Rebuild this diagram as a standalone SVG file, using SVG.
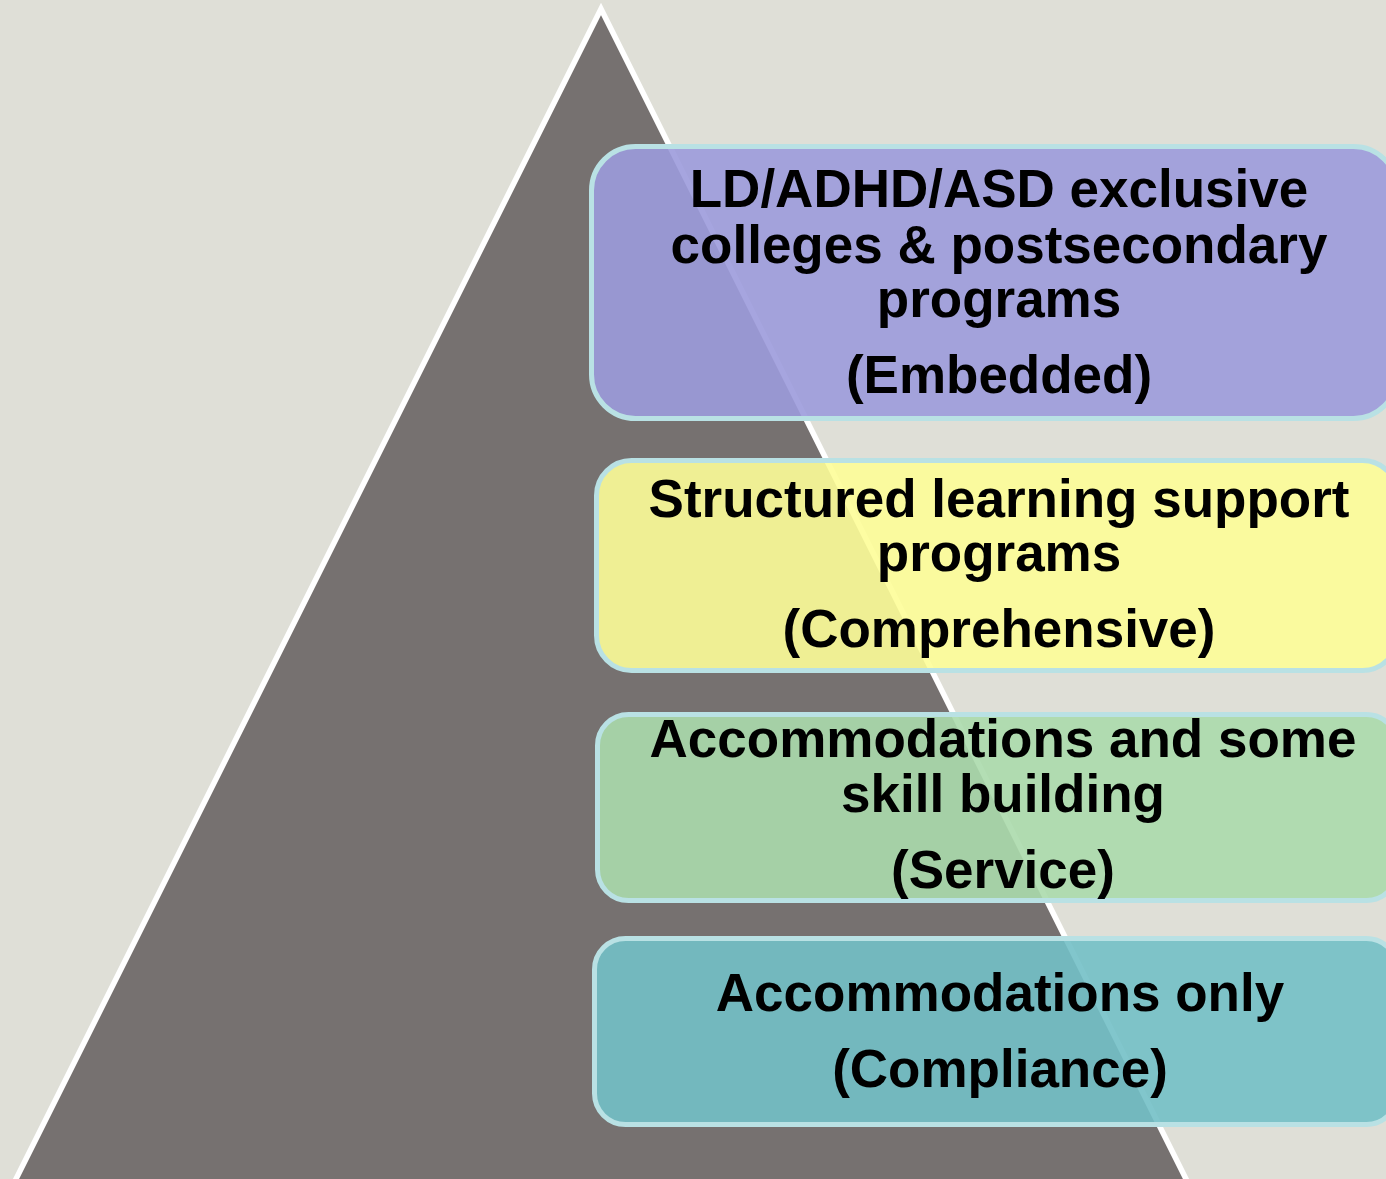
<svg xmlns="http://www.w3.org/2000/svg" width="1386" height="1179" viewBox="0 0 1386 1179">
  <style>
    .tier { stroke: #B9E1E4; stroke-width: 5; fill-opacity: 0.9; }
    .label { font-family: "Liberation Sans", Arial, sans-serif; font-weight: bold; font-size: 53px; fill: #000; text-anchor: middle; }
  </style>
  <!-- backdrop -->
  <rect x="0" y="0" width="1386" height="1179" fill="#DFDFD7"/>
  <!-- pyramid: grey body running past the bottom edge, white outline on the two slopes -->
  <polygon points="601,9 10,1191 1192,1191" fill="#767170"/>
  <polyline points="10,1191 601,9 1192,1191" fill="none" stroke="#FFFFFF" stroke-width="5.5" stroke-linejoin="miter"/>

  <g id="tier-embedded">
    <rect class="tier" x="591.5" y="146.5" width="806" height="272" rx="44" ry="44" fill="#9C9BDC"/>
    <text class="label" x="999" y="207">LD/ADHD/ASD exclusive</text>
    <text class="label" x="999" y="263">colleges &amp; postsecondary</text>
    <text class="label" x="999" y="317">programs</text>
    <text class="label" x="999" y="393">(Embedded)</text>
  </g>

  <g id="tier-comprehensive">
    <rect class="tier" x="596.5" y="460.5" width="801" height="210" rx="35" ry="35" fill="#FDFD98"/>
    <text class="label" x="999" y="517">Structured learning support</text>
    <text class="label" x="999" y="571">programs</text>
    <text class="label" x="999" y="647">(Comprehensive)</text>
  </g>

  <g id="tier-service">
    <rect class="tier" x="597.5" y="714.5" width="800" height="186" rx="31" ry="31" fill="#ABDAAC"/>
    <text class="label" x="1003" y="757">Accommodations and some</text>
    <text class="label" x="1003" y="812">skill building</text>
    <text class="label" x="1003" y="888">(Service)</text>
  </g>

  <g id="tier-compliance">
    <rect class="tier" x="594.5" y="938.5" width="803" height="186" rx="31" ry="31" fill="#73C0C6"/>
    <text class="label" x="1000" y="1011">Accommodations only</text>
    <text class="label" x="1000" y="1087">(Compliance)</text>
  </g>

  <g id="connectors"/>
</svg>
